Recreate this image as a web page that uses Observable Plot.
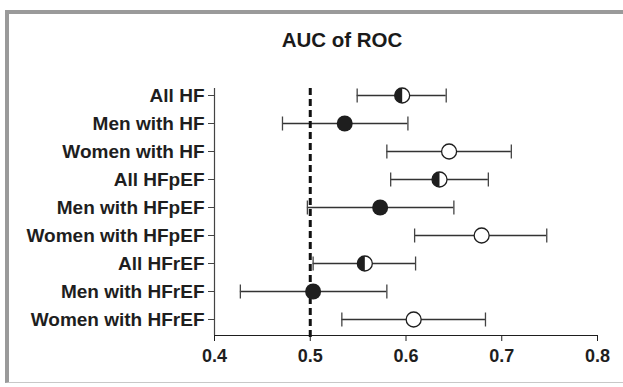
<!DOCTYPE html>
<html>
<head>
<meta charset="utf-8">
<script src="https://cdn.jsdelivr.net/npm/d3@7"></script>
<script src="https://cdn.jsdelivr.net/npm/@observablehq/plot@0.6"></script>
<style>
  html, body { margin: 0; padding: 0; background: #fff; }
  #wrap { position: relative; width: 623px; height: 387px; overflow: hidden; }
  #border { position: absolute; left: 5px; top: 10px; width: 640px; height: 368px;
    border-top: 4px solid #9a9a9a; border-left: 4px solid #9a9a9a; border-bottom: 1px solid #c8c8c8;
    pointer-events: none; }
  #title { position: absolute; left: 242px; width: 200px; top: 28px; text-align: center;
    font: bold 20.5px "Liberation Sans", Arial, sans-serif; color: #1a1a1a; }
</style>
</head>
<body>
<div id="wrap">
  <div id="chart"></div>
  <div id="border"></div>
  <div id="title">AUC of ROC</div>
</div>
<script>
const categories = ["All HF", "Men with HF", "Women with HF", "All HFpEF", "Men with HFpEF",
  "Women with HFpEF", "All HFrEF", "Men with HFrEF", "Women with HFrEF"];
const groups = ["all", "men", "women", "all", "men", "women", "all", "men", "women"];
const auc   = [0.596, 0.536, 0.645, 0.635, 0.573, 0.679, 0.557, 0.503, 0.608];
const lower = [0.549, 0.471, 0.580, 0.584, 0.497, 0.609, 0.503, 0.427, 0.533];
const upper = [0.642, 0.602, 0.710, 0.686, 0.650, 0.747, 0.610, 0.580, 0.683];
const xTicks = [0.4, 0.5, 0.6, 0.7, 0.8];
const xDomain = [0.4, 0.8];
const reference = [0.5];

const data = categories.map((name, i) => ({name, group: groups[i], auc: auc[i], lo: lower[i], hi: upper[i]}));

const halfLeft = {
  draw(ctx, size) {
    const r = Math.sqrt(size / Math.PI);
    ctx.moveTo(0, -r);
    ctx.arc(0, 0, r, -Math.PI / 2, Math.PI / 2, true);
    ctx.closePath();
  }
};
const vCap = {
  draw(ctx, size) {
    const r = Math.sqrt(size / Math.PI);
    ctx.moveTo(0, -r);
    ctx.lineTo(0, r);
  }
};

const ink = "#1e1e1e";

const chart = Plot.plot({
  width: 623,
  height: 387,
  marginLeft: 214,
  marginRight: 26,
  marginTop: 88,
  marginBottom: 52,
  style: {fontFamily: "'Liberation Sans', Arial, sans-serif", fontSize: "18px", fontWeight: "bold", color: "#1e1e1e", background: "white"},
  x: {domain: xDomain, ticks: xTicks, tickFormat: d => d.toFixed(1), line: true, tickSize: 6, tickPadding: 8, label: null},
  y: {type: "point", domain: categories, range: [94, 320], padding: 0},
  marks: [
    Plot.axisY({tickSize: 6, tickPadding: 4, fontSize: 19, fontWeight: "bold", label: null, stroke: "#444"}),
    Plot.ruleX([xDomain[0]], {stroke: "#444", strokeWidth: 1.2}),
    Plot.ruleY(data, {y: "name", x1: "lo", x2: "hi", stroke: "#333", strokeWidth: 1.3}),
    Plot.dot(data, {x: "lo", y: "name", symbol: vCap, r: 7, fill: "none", stroke: "#444", strokeWidth: 1.3}),
    Plot.dot(data, {x: "hi", y: "name", symbol: vCap, r: 7, fill: "none", stroke: "#444", strokeWidth: 1.3}),
    Plot.ruleX(reference, {stroke: "#111", strokeWidth: 3, strokeDasharray: "7,4", insetBottom: -5}),
    Plot.dot(data.filter(d => d.group !== "men"), {x: "auc", y: "name", r: 7.5, fill: "white", stroke: ink, strokeWidth: 1.3}),
    Plot.dot(data.filter(d => d.group === "all"), {x: "auc", y: "name", r: 7.5, symbol: halfLeft, fill: ink, stroke: "none"}),
    Plot.dot(data.filter(d => d.group === "men"), {x: "auc", y: "name", r: 8, fill: ink, stroke: "none"})
  ]
});
document.getElementById("chart").appendChild(chart);
</script>
</body>
</html>
